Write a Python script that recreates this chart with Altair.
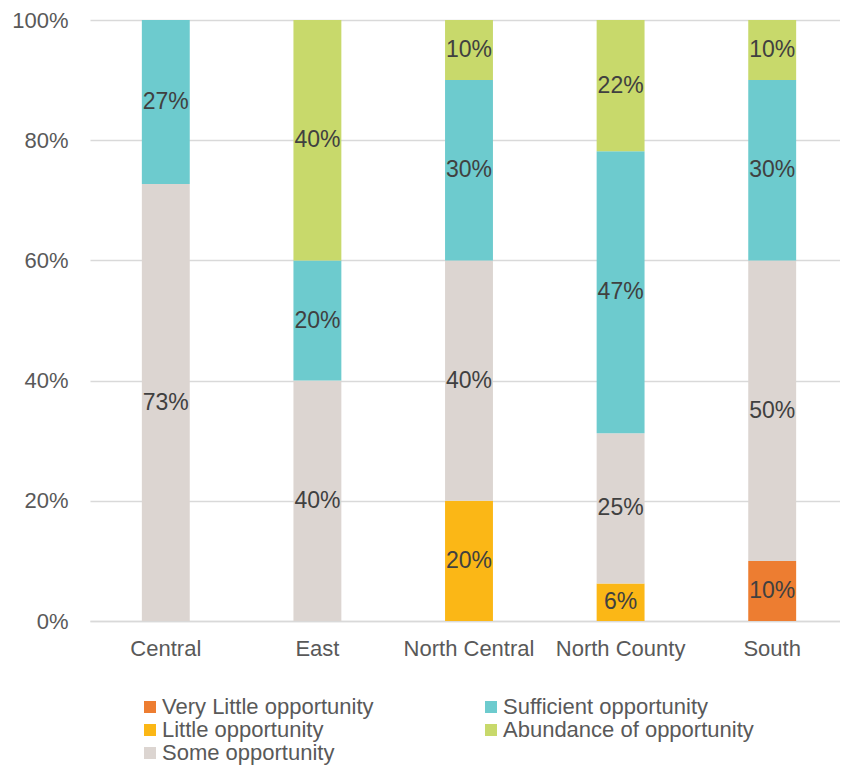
import altair as alt
import pandas as pd

regions = ["Central", "East", "North Central", "North County", "South"]
series = ["Very Little opportunity", "Little opportunity", "Some opportunity",
          "Sufficient opportunity", "Abundance of opportunity"]
very_little = [0, 0, 0, 0, 10]
little = [0, 0, 20, 6.25, 0]
some = [72.7, 40, 40, 25, 50]
sufficient = [27.3, 20, 30, 46.9, 30]
abundance = [0, 40, 10, 21.85, 10]
colors = ["#ED7D31", "#FBB716", "#DCD5D1", "#6DCBCE", "#C8D96B"]

values = [very_little, little, some, sufficient, abundance]
rows = []
for si, (s, vals) in enumerate(zip(series, values)):
    for r, v in zip(regions, vals):
        if v > 0:
            rows.append({"region": r, "series": s, "value": v, "rank": si})
df = pd.DataFrame(rows)

FONT = "Liberation Sans"

base = alt.Chart(df).transform_stack(
    stack="value", groupby=["region"], as_=["y0", "y1"],
    sort=[alt.SortField("rank", order="ascending")]
).transform_calculate(
    mid="(datum.y0 + datum.y1) / 2",
    label="round(datum.value) + '%'"
)

xenc = alt.X("region:N", sort=regions, title=None,
             scale=alt.Scale(range=[0, 758], paddingInner=0.684, paddingOuter=0.342),
             axis=alt.Axis(labelAngle=0, labelFont=FONT, labelFontSize=22,
                           labelColor="#595959", labelPadding=17, ticks=False,
                           domainColor="#D9D9D9", domainWidth=1.5, grid=False))

bars = base.mark_bar().encode(
    x=xenc,
    y=alt.Y("y0:Q", title=None,
            scale=alt.Scale(domain=[0, 100], nice=False),
            axis=alt.Axis(values=[0, 20, 40, 60, 80, 100],
                          labelExpr="datum.value + '%'",
                          labelFont=FONT, labelFontSize=22, labelColor="#595959",
                          labelPadding=22, ticks=False, domain=False,
                          gridColor="#D9D9D9", gridWidth=1.5)),
    y2="y1:Q",
    color=alt.Color("series:N",
                    scale=alt.Scale(domain=series, range=colors),
                    legend=alt.Legend(title=None, orient="none", legendX=49, legendY=676,
                                      columns=2, columnPadding=106, rowPadding=1,
                                      symbolType="square", symbolSize=144,
                                      symbolStrokeWidth=0, labelOffset=1,
                                      labelFont=FONT, labelFontSize=22,
                                      labelColor="#595959", labelLimit=400,
                                      padding=0)),
)

texts = base.mark_text(font=FONT, fontSize=23, color="#404040").encode(
    x=alt.X("region:N", sort=regions),
    y=alt.Y("mid:Q"),
    text="label:N",
)

chart = alt.layer(bars, texts).properties(
    width=750, height=601,
    autosize=alt.AutoSizeParams(type="none"),
    padding={"left": 82, "top": 12, "right": 0, "bottom": 146},
).configure_view(stroke=None)

chart.save("out.html", embed_options={"renderer": "svg", "actions": False})
